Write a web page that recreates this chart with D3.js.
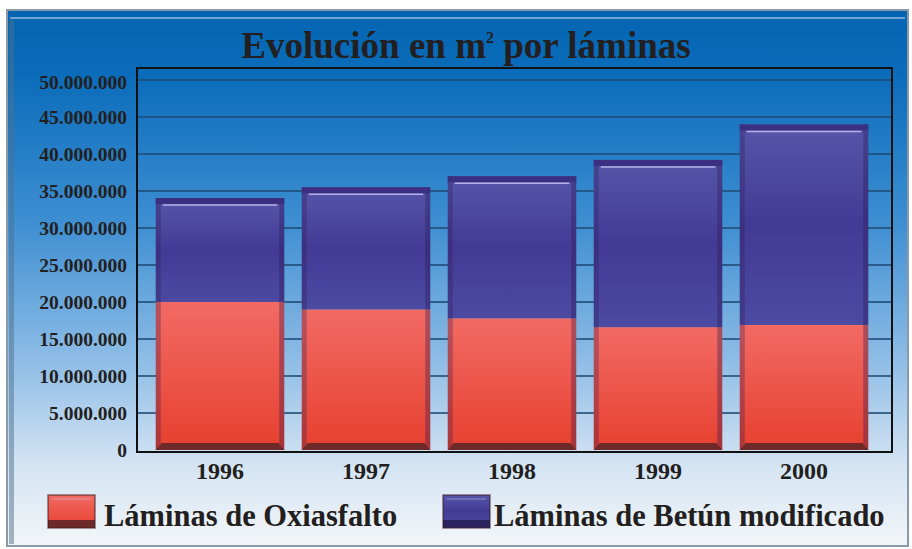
<!DOCTYPE html>
<meta charset="utf-8">
<style>
body { margin: 0; background: #fff; }
text { font-family: "Liberation Serif", "DejaVu Serif", serif; font-weight: bold; fill: #231f20; }
</style>
<svg width="912" height="549"></svg>
<script src="https://cdn.jsdelivr.net/npm/d3@7"></script>
<script>

var years = ["1996", "1997", "1998", "1999", "2000"];
var oxiasfalto = [20000000, 19000000, 17800000, 16600000, 16900000];
var betun = [14050000, 16500000, 19200000, 22600000, 27100000];
var yTicks = [0, 5000000, 10000000, 15000000, 20000000, 25000000, 30000000, 35000000, 40000000, 45000000, 50000000];
var seriesNames = ["Láminas de Oxiasfalto", "Láminas de Betún modificado"];

var svg = d3.select("svg");
var defs = svg.append("defs");

function grad(id, stops) {
  var g = defs.append("linearGradient").attr("id", id)
    .attr("x1", 0).attr("y1", 0).attr("x2", 0).attr("y2", 1);
  stops.forEach(function(s) {
    g.append("stop").attr("offset", s[0]).attr("stop-color", s[1]);
  });
}

grad("bg", [[0, "#0464b2"], [0.12, "#0a6cba"], [0.4, "#3f8fd2"], [0.65, "#8dbce6"], [0.85, "#d4e4f3"], [1, "#f3f6f8"]]);
grad("red", [[0, "#f26a64"], [1, "#e6402f"]]);
grad("blue", [[0, "#5656aa"], [0.5, "#433a95"], [1, "#4c4aa2"]]);

// outer panel
svg.append("rect").attr("x", 7).attr("y", 10).attr("width", 901).attr("height", 536)
  .attr("fill", "url(#bg)").attr("stroke", "#8a9aa8").attr("stroke-width", 2);
svg.append("line").attr("x1", 10).attr("x2", 905).attr("y1", 18).attr("y2", 18)
  .attr("stroke", "#6fa6d6").attr("stroke-width", 2);
svg.append("rect").attr("x", 9).attr("y", 20).attr("width", 5).attr("height", 524)
  .attr("fill", "#4d6f8c").attr("opacity", 0.5);

var y = d3.scaleLinear().domain([0, 50000000]).range([450, 80]);
var x = d3.scaleBand().domain(years).range([147, 877]).paddingInner(0.12).paddingOuter(0.06);

// plot area
var plot = { left: 137, right: 892, top: 68, bottom: 452 };

svg.append("g").selectAll("line").data(yTicks.slice(1)).enter().append("line")
  .attr("x1", plot.left).attr("x2", plot.right)
  .attr("y1", function(d) { return y(d); }).attr("y2", function(d) { return y(d); })
  .attr("stroke", "#1f4d78").attr("stroke-width", 2).attr("opacity", 0.8);

svg.append("rect").attr("x", plot.left).attr("y", plot.top)
  .attr("width", plot.right - plot.left).attr("height", plot.bottom - plot.top)
  .attr("fill", "none").attr("stroke", "#111").attr("stroke-width", 2);

// y axis labels
var fmt = function(d) { return d3.format(",")(d).replace(/,/g, "."); };
svg.append("g").selectAll("text").data(yTicks).enter().append("text")
  .attr("x", 127).attr("y", function(d) { return y(d) + 7 + (d === 50000000 ? 2 : 0); })
  .attr("text-anchor", "end").attr("font-size", 19.5)
  .text(fmt);

// bars
var bw = x.bandwidth();
var bars = svg.append("g").selectAll("g").data(years).enter().append("g");

bars.append("rect")
  .attr("x", function(d) { return x(d); })
  .attr("y", function(d, i) { return y(oxiasfalto[i]); })
  .attr("width", bw)
  .attr("height", function(d, i) { return y(0) - y(oxiasfalto[i]); })
  .attr("fill", "url(#red)");

bars.append("rect")
  .attr("x", function(d) { return x(d); })
  .attr("y", function(d, i) { return y(oxiasfalto[i] + betun[i]); })
  .attr("width", bw)
  .attr("height", function(d, i) { return y(oxiasfalto[i]) - y(oxiasfalto[i] + betun[i]); })
  .attr("fill", "url(#blue)");

// side bevels
bars.append("rect")
  .attr("x", function(d) { return x(d); })
  .attr("y", function(d, i) { return y(oxiasfalto[i] + betun[i]); })
  .attr("width", 5)
  .attr("height", function(d, i) { return y(0) - y(oxiasfalto[i] + betun[i]); })
  .attr("fill", "#2a1a50").attr("opacity", 0.3);
bars.append("rect")
  .attr("x", function(d) { return x(d) + bw - 5; })
  .attr("y", function(d, i) { return y(oxiasfalto[i] + betun[i]); })
  .attr("width", 5)
  .attr("height", function(d, i) { return y(0) - y(oxiasfalto[i] + betun[i]); })
  .attr("fill", "#2a1a50").attr("opacity", 0.35);
// top bevel
bars.append("rect")
  .attr("x", function(d) { return x(d); })
  .attr("y", function(d, i) { return y(oxiasfalto[i] + betun[i]); })
  .attr("width", bw).attr("height", 6)
  .attr("fill", "#3a2f80");
bars.append("line")
  .attr("x1", function(d) { return x(d) + 7; })
  .attr("x2", function(d) { return x(d) + bw - 7; })
  .attr("y1", function(d, i) { return y(oxiasfalto[i] + betun[i]) + 7; })
  .attr("y2", function(d, i) { return y(oxiasfalto[i] + betun[i]) + 7; })
  .attr("stroke", "#b4b2e6").attr("stroke-width", 1.5);
// bottom base
bars.append("path")
  .attr("d", function(d) {
    var x0 = x(d), b = y(0);
    return "M" + x0 + "," + b + "L" + (x0 + 6) + "," + (b - 7) + "L" + (x0 + bw - 6) + "," + (b - 7) + "L" + (x0 + bw) + "," + b + "Z";
  })
  .attr("fill", "#6e2a28");

// x labels
svg.append("g").selectAll("text").data(years).enter().append("text")
  .attr("x", function(d) { return x(d) + bw / 2; })
  .attr("y", 479).attr("text-anchor", "middle").attr("font-size", 24)
  .text(function(d) { return d; });

// title
var title = svg.append("text").attr("x", 466).attr("y", 58).attr("text-anchor", "middle")
  .attr("font-size", 37);
title.append("tspan").text("Evolución en m");
title.append("tspan").attr("font-size", 16).attr("dy", -15).text("2");
title.append("tspan").attr("dy", 15).text(" por láminas");

// legend
var legend = [
  { name: seriesNames[0], sx: 48, tx: 104, fill: "url(#red)", base: "#6e2a28" },
  { name: seriesNames[1], sx: 443, tx: 494, fill: "url(#blue)", base: "#2a2360" }
];
var lg = svg.append("g").selectAll("g").data(legend).enter().append("g");
lg.append("rect").attr("x", function(d) { return d.sx; }).attr("y", 495)
  .attr("width", 47).attr("height", 33).attr("fill", function(d) { return d.fill; });
lg.append("rect").attr("x", function(d) { return d.sx; }).attr("y", 520)
  .attr("width", 47).attr("height", 8).attr("fill", function(d) { return d.base; });
lg.append("rect").attr("x", function(d) { return d.sx; }).attr("y", 495)
  .attr("width", 47).attr("height", 33).attr("fill", "none")
  .attr("stroke", "#3a1a20").attr("stroke-width", 1.5).attr("opacity", 0.6);
lg.append("line").attr("x1", function(d) { return d.sx + 4; }).attr("x2", function(d) { return d.sx + 43; })
  .attr("y1", 499).attr("y2", 499).attr("stroke", "#d0cff0").attr("opacity", 0.5);
lg.append("text").attr("x", function(d) { return d.tx; }).attr("y", 526)
  .attr("font-size", 30.5)
  .text(function(d) { return d.name; });

</script>
